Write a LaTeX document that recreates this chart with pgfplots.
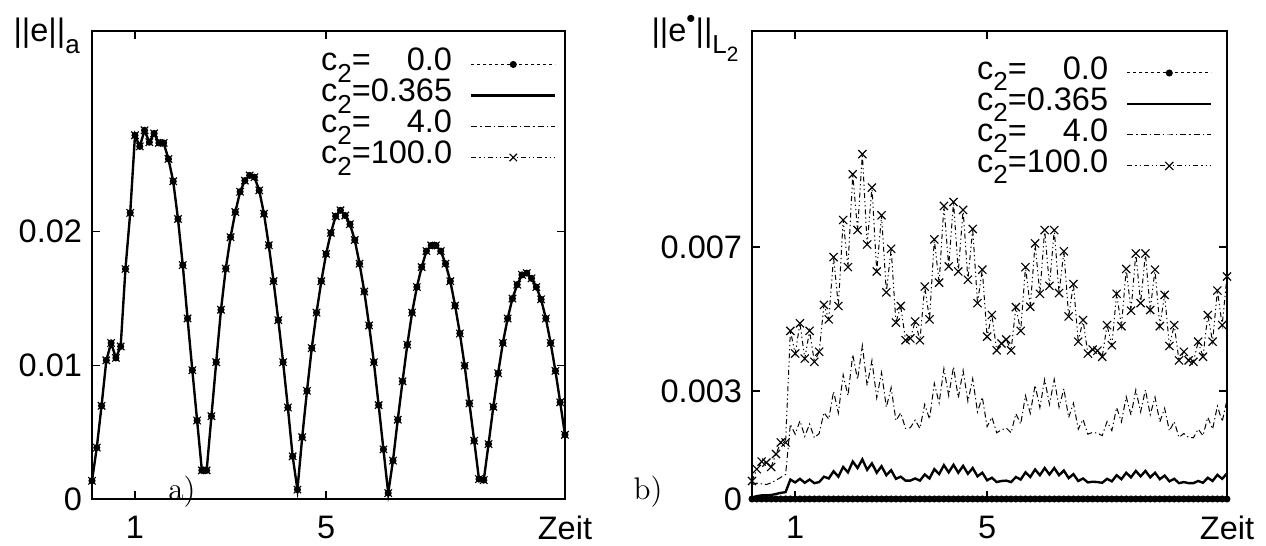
\documentclass[border=0pt]{standalone}
\usepackage{fontspec}
\setsansfont{Liberation Sans}
\renewcommand{\familydefault}{\sfdefault}
\usepackage{pgfplots}
\pgfplotsset{compat=1.18}
\usepackage{pgfplotstable}

\newcommand{\ctwo}[1]{c\raisebox{-0.35em}{\scalebox{0.8}{2}}=\makebox[2.502em][r]{#1}}
\newcommand{\fs}{\fontsize{13}{15}\selectfont}

\pgfplotstableread{
x y
0.1 0.00136
0.2 0.00384
0.3 0.00697
0.4 0.01037
0.5 0.01167
0.6 0.01055
0.7 0.01141
0.8 0.0172
0.9 0.0214
1.0 0.0272
1.1 0.02637
1.2 0.02757
1.3 0.02668
1.4 0.02734
1.5 0.02663
1.6 0.02663
1.7 0.02543
1.8 0.02376
1.9 0.02094
2.0 0.01749
2.1 0.0135
2.2 0.00963
2.3 0.00587
2.4 0.00214
2.5 0.00214
2.6 0.00619
2.7 0.01023
2.8 0.01415
2.9 0.01723
3.0 0.01958
3.1 0.02146
3.2 0.02298
3.3 0.02381
3.4 0.0242
3.5 0.02407
3.6 0.02308
3.7 0.02133
3.8 0.01898
3.9 0.01629
4.0 0.01337
4.1 0.01023
4.2 0.00684
4.3 0.00319
4.4 0.0007
4.5 0.00462
4.6 0.00809
4.7 0.01128
4.8 0.01394
4.9 0.01629
5.0 0.01833
5.1 0.0199
5.2 0.02115
5.3 0.02159
5.4 0.0212
5.5 0.02055
5.6 0.01937
5.7 0.0176
5.8 0.01551
5.9 0.01298
6.0 0.01023
6.1 0.00702
6.2 0.00371
6.3 0.00044
6.4 0.00287
6.5 0.00593
6.6 0.0088
6.7 0.01154
6.8 0.01394
6.9 0.01585
7.0 0.01734
7.1 0.01854
7.2 0.01896
7.3 0.01896
7.4 0.01854
7.5 0.0176
7.6 0.01629
7.7 0.01446
7.8 0.01238
7.9 0.00997
8.0 0.00715
8.1 0.00436
8.2 0.00149
8.3 0.00141
8.4 0.0041
8.5 0.00689
8.6 0.0094
8.7 0.01167
8.8 0.0135
8.9 0.01499
9.0 0.01603
9.1 0.01676
9.2 0.01689
9.3 0.0165
9.4 0.01585
9.5 0.01493
9.6 0.0135
9.7 0.01167
9.8 0.00958
9.9 0.00723
10.0 0.0048
}\lefttable

\pgfplotstableread{
x c0 c365 c4 c100
0.1 0 0.00004 0.00040 0.00050
0.2 0 0.00008 0.00044 0.00083
0.3 0 0.00010 0.00042 0.00104
0.4 0 0.00010 0.00040 0.00101
0.5 0 0.00011 0.00045 0.00089
0.6 0 0.00014 0.00052 0.00125
0.7 0 0.00017 0.00060 0.00157
0.8 0 0.00019 0.00068 0.00157
0.9 0 0.00054 0.00208 0.00467
1.0 0 0.00046 0.00180 0.00404
1.1 0 0.00056 0.00217 0.00488
1.2 0 0.00045 0.00174 0.00390
1.3 0 0.00054 0.00208 0.00467
1.4 0 0.00044 0.00170 0.00381
1.5 0 0.00047 0.00182 0.00409
1.6 0 0.00062 0.00240 0.00539
1.7 0 0.00057 0.00222 0.00499
1.8 0 0.00077 0.00299 0.00672
1.9 0 0.00062 0.00239 0.00536
2.0 0 0.00089 0.00345 0.00775
2.1 0 0.00074 0.00287 0.00644
2.2 0 0.00104 0.00401 0.00902
2.3 0 0.00086 0.00332 0.00747
2.4 0 0.00110 0.00426 0.00958
2.5 0 0.00081 0.00315 0.00707
2.6 0 0.00099 0.00385 0.00865
2.7 0 0.00073 0.00281 0.00632
2.8 0 0.00091 0.00351 0.00788
2.9 0 0.00066 0.00255 0.00574
3.0 0 0.00080 0.00309 0.00695
3.1 0 0.00056 0.00218 0.00490
3.2 0 0.00062 0.00239 0.00536
3.3 0 0.00051 0.00196 0.00441
3.4 0 0.00051 0.00198 0.00446
3.5 0 0.00057 0.00219 0.00493
3.6 0 0.00051 0.00196 0.00441
3.7 0 0.00068 0.00263 0.00590
3.8 0 0.00057 0.00222 0.00499
3.9 0 0.00083 0.00321 0.00721
4.0 0 0.00069 0.00267 0.00601
4.1 0 0.00094 0.00362 0.00814
4.2 0 0.00074 0.00287 0.00646
4.3 0 0.00095 0.00367 0.00825
4.4 0 0.00073 0.00281 0.00632
4.5 0 0.00092 0.00357 0.00803
4.6 0 0.00070 0.00271 0.00609
4.7 0 0.00086 0.00334 0.00750
4.8 0 0.00063 0.00242 0.00544
4.9 0 0.00073 0.00283 0.00637
5.0 0 0.00052 0.00201 0.00451
5.1 0 0.00059 0.00227 0.00511
5.2 0 0.00047 0.00184 0.00413
5.3 0 0.00050 0.00192 0.00432
5.4 0 0.00051 0.00197 0.00443
5.5 0 0.00047 0.00184 0.00413
5.6 0 0.00061 0.00237 0.00533
5.7 0 0.00054 0.00208 0.00467
5.8 0 0.00074 0.00287 0.00644
5.9 0 0.00061 0.00238 0.00534
6.0 0 0.00082 0.00316 0.00710
6.1 0 0.00066 0.00254 0.00570
6.2 0 0.00086 0.00332 0.00747
6.3 0 0.00068 0.00263 0.00592
6.4 0 0.00086 0.00332 0.00747
6.5 0 0.00066 0.00255 0.00572
6.6 0 0.00079 0.00306 0.00688
6.7 0 0.00058 0.00226 0.00507
6.8 0 0.00069 0.00266 0.00597
6.9 0 0.00050 0.00194 0.00437
7.0 0 0.00057 0.00221 0.00497
7.1 0 0.00046 0.00180 0.00404
7.2 0 0.00048 0.00185 0.00415
7.3 0 0.00047 0.00183 0.00412
7.4 0 0.00045 0.00176 0.00395
7.5 0 0.00056 0.00215 0.00483
7.6 0 0.00049 0.00190 0.00427
7.7 0 0.00066 0.00254 0.00570
7.8 0 0.00055 0.00214 0.00480
7.9 0 0.00073 0.00284 0.00639
8.0 0 0.00060 0.00233 0.00523
8.1 0 0.00078 0.00303 0.00682
8.2 0 0.00063 0.00242 0.00544
8.3 0 0.00078 0.00303 0.00682
8.4 0 0.00060 0.00234 0.00525
8.5 0 0.00073 0.00283 0.00637
8.6 0 0.00055 0.00214 0.00480
8.7 0 0.00065 0.00252 0.00567
8.8 0 0.00049 0.00189 0.00425
8.9 0 0.00056 0.00215 0.00483
9.0 0 0.00044 0.00171 0.00385
9.1 0 0.00047 0.00182 0.00409
9.2 0 0.00044 0.00171 0.00385
9.3 0 0.00044 0.00170 0.00381
9.4 0 0.00050 0.00194 0.00437
9.5 0 0.00045 0.00176 0.00395
9.6 0 0.00059 0.00227 0.00511
9.7 0 0.00050 0.00194 0.00437
9.8 0 0.00067 0.00258 0.00579
9.9 0 0.00056 0.00215 0.00483
10.0 0 0.00071 0.00275 0.00618
}\righttable

\pgfplotsset{
  gp/.style={
    scale only axis, height=187.2pt, anchor=south west,
    xmin=0.1, xmax=10, xtick={1,5,10}, xticklabels={1,5,Zeit},
    tick align=inside, tick pos=both, major tick length=3.3pt,
    axis line style={line width=0.6pt}, every tick/.style={line width=0.6pt, black},
    clip=false, scaled y ticks=false,
    /pgf/number format/assume math mode=true,
    ticklabel style={font=\fs},
    yticklabel style={inner sep=0pt}, xticklabel style={inner sep=0pt},
    xticklabel shift=6.5pt, yticklabel shift=3.8pt,
    legend plot pos=right,
    legend cell align=right,
    legend style={draw=none, fill=none, font=\fs,
      inner sep=0pt, row sep=0pt, column sep=7.2pt,
      nodes={inner sep=0pt, text height=8.8pt, text depth=3.6pt}},
    legend image code/.code={\draw[mark repeat=2,mark phase=2,##1] plot coordinates {(0pt,0pt) (16.8pt,0pt) (33.6pt,0pt)};},
  },
  s0/.style={line width=0.4pt, dash pattern=on 1.2pt off 1.2pt, mark=*, mark size=1.2pt, mark options={solid}},
  s1/.style={line width=0.95pt},
  s2/.style={line width=0.4pt, dash pattern=on 2.4pt off 1.2pt on 0.5pt off 1.2pt},
  s3/.style={line width=0.4pt, dash pattern=on 2pt off 1.2pt on 0.5pt off 1.2pt on 0.5pt off 1.2pt, mark=x, mark size=#1, mark options={solid, line width=0.45pt}},
  s3/.default=2.3pt,
}

\begin{document}
\begin{tikzpicture}
\useasboundingbox (0,0) rectangle (506.4pt,218.4pt);
\begin{axis}[gp, width=189.2pt, at={(36.8pt,18.8pt)},
  ymin=0, ymax=0.035, ytick={0,0.01,0.02}, yticklabels={0,0.01,0.02},
  legend style={at={(1,1)}, anchor=north east, xshift=-3.2pt, yshift=-7pt}]
\addplot[s0] table[x=x,y=y] {\lefttable};
\addplot[s1] table[x=x,y=y] {\lefttable};
\addplot[s2] table[x=x,y=y] {\lefttable};
\addplot[s3=2.1pt] table[x=x,y=y] {\lefttable};
\legend{{\ctwo{0.0}},{\ctwo{0.365}},{\ctwo{4.0}},{\ctwo{100.0}}}
\end{axis}
\begin{axis}[gp, width=190pt, at={(300.8pt,18.8pt)},
  ymin=0, ymax=0.013, ytick={0,0.003,0.007}, yticklabels={0,0.003,0.007},
  legend style={at={(1,1)}, anchor=north east, xshift=-5.6pt, yshift=-10.4pt}]
\addplot[s0] table[x=x,y=c0] {\righttable};
\addplot[s1] table[x=x,y=c365] {\righttable};
\addplot[s2] table[x=x,y=c4] {\righttable};
\addplot[s3] table[x=x,y=c100] {\righttable};
\legend{{\ctwo{0.0}},{\ctwo{0.365}},{\ctwo{4.0}},{\ctwo{100.0}}}
\end{axis}
\node[anchor=base west, inner sep=0pt, font=\fs] at (5.2pt,201.6pt) {||e||\raisebox{-0.35em}{\scalebox{0.8}{a}}};
\node[anchor=base west, inner sep=0pt, font=\fs] at (260.4pt,201.6pt) {||e\raisebox{0.45em}{\scalebox{0.8}{\textbullet}}||\raisebox{-0.35em}{\scalebox{0.8}{L\raisebox{-0.3em}{\scalebox{0.8}{2}}}}};
\node[inner sep=0pt, font=\rmfamily\fontsize{12.5}{14}\selectfont] at (72.8pt,21.6pt) {a)};
\node[inner sep=0pt, font=\rmfamily\fontsize{12.5}{14}\selectfont] at (259.2pt,21.6pt) {b)};
\end{tikzpicture}
\end{document}
